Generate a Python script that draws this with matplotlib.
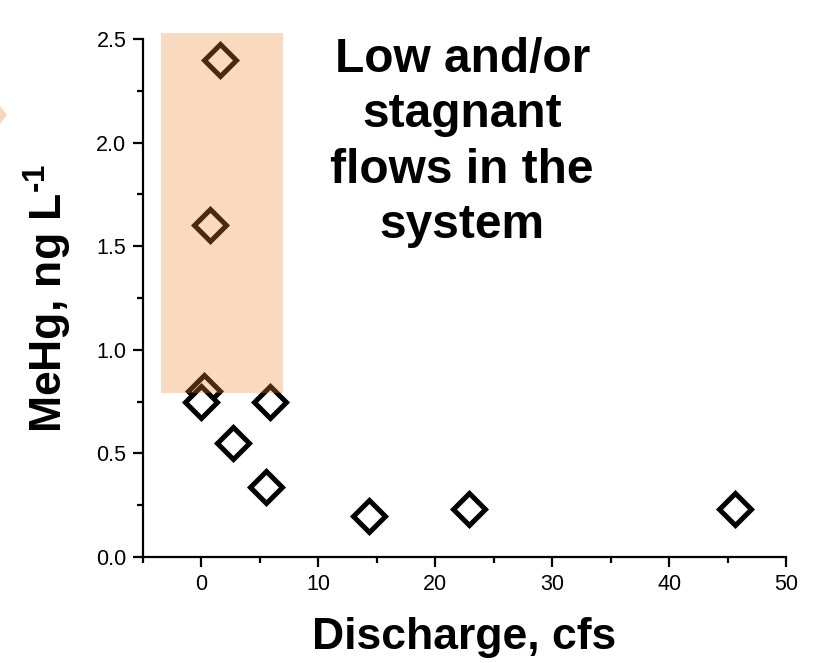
import matplotlib
matplotlib.use("Agg")
import matplotlib.pyplot as plt
from matplotlib.patches import Rectangle, Polygon
from matplotlib.ticker import MultipleLocator

plt.rcParams['font.family'] = ['Liberation Sans', 'DejaVu Sans']
plt.rcParams['mathtext.fontset'] = 'custom'
plt.rcParams['mathtext.rm'] = 'Liberation Sans'
plt.rcParams['mathtext.bf'] = 'Liberation Sans:bold'

# discharge (cfs) and MeHg (ng/L) samples
discharge = [1.6, 0.7, 0.2, 0.0, 5.9, 2.7, 5.5, 14.3, 22.9, 45.6]
mehg = [2.40, 1.60, 0.80, 0.75, 0.75, 0.55, 0.34, 0.20, 0.23, 0.23]

# shaded low-flow region (x range, y range)
zone_x = (-3.5, 7.0)
zone_y = (0.79, 2.53)

note = "Low and/or\nstagnant\nflows in the\nsystem"

fig = plt.figure(figsize=(8.2, 6.63), dpi=100)
ax = fig.add_axes([0.1744, 0.1599, 0.9585 - 0.1744, 0.9412 - 0.1599])

ax.plot(discharge, mehg, linestyle="none", marker="D", markersize=16,
        markerfacecolor="white", markeredgecolor="black",
        markeredgewidth=3.6, zorder=3)

# translucent box laid over the markers
ax.add_patch(Rectangle((zone_x[0], zone_y[0]), zone_x[1] - zone_x[0],
                       zone_y[1] - zone_y[0], facecolor="#EC8633",
                       alpha=0.31, edgecolor="none", zorder=4,
                       clip_on=False))

ax.text(22.3, 2.0, note, ha="center", va="center", fontsize=34.5,
        fontweight="bold", linespacing=1.3)

ax.set_xlim(-5, 50)
ax.set_ylim(0, 2.5)
ax.xaxis.set_major_locator(MultipleLocator(10))
ax.xaxis.set_minor_locator(MultipleLocator(5))
ax.yaxis.set_major_locator(MultipleLocator(0.5))
ax.yaxis.set_minor_locator(MultipleLocator(0.25))
ax.yaxis.set_major_formatter(plt.FormatStrFormatter("%.1f"))

for side in ["top", "right"]:
    ax.spines[side].set_visible(False)
for side in ["left", "bottom"]:
    ax.spines[side].set_linewidth(1.6)

ax.tick_params(which="major", direction="out", length=7, width=1.6,
               labelsize=15.5, pad=5)
ax.tick_params(which="minor", direction="out", length=4, width=1.6)

ax.set_xlabel("Discharge, cfs", fontsize=32, fontweight="bold", labelpad=16)
ax.set_ylabel("MeHg, ng L$^{\\mathbf{\u20101}}$", fontsize=32,
              fontweight="bold", labelpad=16)

# piece of an arrow cut off at the left border
fig.patches.append(Polygon([(0, 1 - 106 / 663), (7 / 820, 1 - 115 / 663),
                            (0, 1 - 124 / 663)], closed=True,
                           facecolor="#F9D6BB", edgecolor="none",
                           transform=fig.transFigure, figure=fig))

fig.savefig("out.png", dpi=100)
